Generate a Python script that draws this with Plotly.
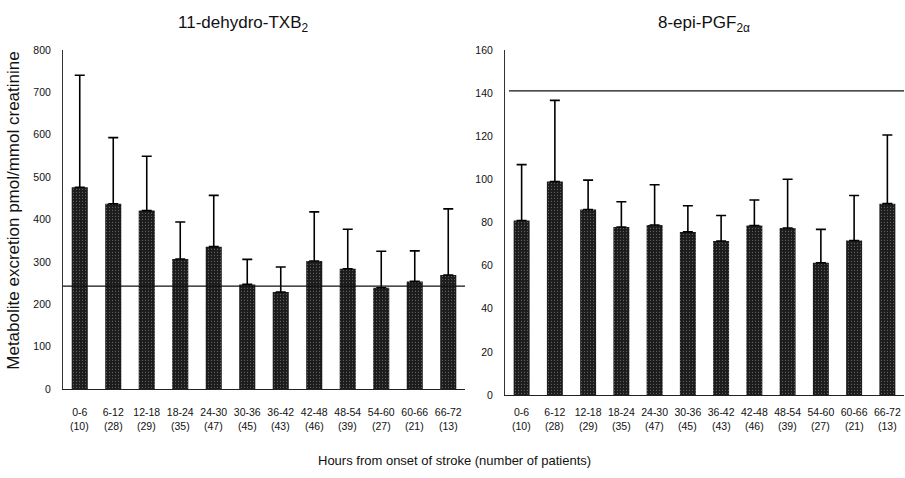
import plotly.graph_objects as go

categories = ["0-6", "6-12", "12-18", "18-24", "24-30", "30-36", "36-42", "42-48", "48-54", "54-60", "60-66", "66-72"]
n_patients = [10, 28, 29, 35, 47, 45, 43, 46, 39, 27, 21, 13]

txb2_mean = [476, 437, 421, 307, 336, 247, 229, 302, 284, 239, 254, 269]
txb2_upper = [740, 593, 549, 394, 457, 306, 288, 418, 377, 325, 326, 425]
txb2_ref = 243

pgf_mean = [80.9, 99.0, 86.0, 77.9, 78.8, 75.6, 71.4, 78.6, 77.4, 61.3, 71.6, 88.7]
pgf_upper = [106.8, 136.6, 99.6, 89.6, 97.5, 87.7, 83.2, 90.4, 100.0, 76.8, 92.5, 120.5]
pgf_ref = 141

FONT = "Arial, Liberation Sans, sans-serif"
W, H = 905, 478
xs = list(range(len(categories)))

fig = go.Figure()

def add_bars(mean, upper, xa, ya):
    fig.add_trace(go.Bar(
        x=xs, y=mean, xaxis=xa, yaxis=ya, width=0.48,
        marker=dict(color="#1c1c1c", line=dict(width=0),
                    pattern=dict(shape=".", fgcolor="#d0d0d0", bgcolor="#1c1c1c",
                                 size=3, solidity=0.12)),
        error_y=dict(type="data", symmetric=False,
                     array=[u - m for u, m in zip(upper, mean)],
                     arrayminus=[0] * len(mean),
                     color="black", thickness=1.6, width=5),
        showlegend=False, hoverinfo="skip"))

add_bars(txb2_mean, txb2_upper, "x", "y")
add_bars(pgf_mean, pgf_upper, "x2", "y2")

xcommon = dict(range=[-0.5, 11.5], tickmode="array", tickvals=xs,
               ticktext=categories, showgrid=False, zeroline=False,
               showline=True, linecolor="#222", linewidth=1, ticks="",
               tickfont=dict(family=FONT, size=10.5, color="#111"), tickangle=0)
ycommon = dict(showgrid=False, zeroline=False, showline=True, linecolor="#333",
               linewidth=1, ticks="", ticklabelstandoff=9,
               tickfont=dict(family=FONT, size=10.5, color="#111"))

annotations = [
    dict(text="11-dehydro-TXB<sub>2</sub>", x=243 / W, y=1 - 18 / H, xref="paper", yref="paper",
         xanchor="center", yanchor="middle", showarrow=False,
         font=dict(family=FONT, size=17, color="#111")),
    dict(text="8-epi-PGF<sub>2α</sub>", x=704 / W, y=1 - 18 / H, xref="paper", yref="paper",
         xanchor="center", yanchor="middle", showarrow=False,
         font=dict(family=FONT, size=17, color="#111")),
    dict(text="Metabolite excretion pmol/mmol creatinine", x=14 / W, y=1 - 210 / H,
         xref="paper", yref="paper", xanchor="center", yanchor="middle",
         showarrow=False, textangle=-90,
         font=dict(family=FONT, size=17, color="#111")),
    dict(text="Hours from onset of stroke (number of patients)", x=454 / W, y=1 - 466 / H,
         xref="paper", yref="paper", xanchor="center", yanchor="middle", showarrow=False,
         font=dict(family=FONT, size=13, color="#111")),
]
for xa in ("x", "x2"):
    for i, n in zip(xs, n_patients):
        annotations.append(dict(text=f"({n})", x=i, xref=xa, y=1 - 431 / H, yref="paper",
                                xanchor="center", yanchor="middle", showarrow=False,
                                font=dict(family=FONT, size=10.5, color="#111")))

fig.update_layout(
    width=W, height=H, margin=dict(l=0, r=0, t=0, b=0),
    paper_bgcolor="white", plot_bgcolor="white", bargap=0.5,
    xaxis=dict(domain=[63 / W, 465 / W], anchor="y", ticklabelstandoff=13, **xcommon),
    yaxis=dict(domain=[1 - 393 / H, 1 - 45 / H], anchor="x", range=[0, 800],
               tickvals=[0, 100, 200, 300, 400, 500, 600, 700, 800], **ycommon),
    xaxis2=dict(domain=[505 / W, 904 / W], anchor="y2", ticklabelstandoff=7, **xcommon),
    yaxis2=dict(domain=[1 - 399 / H, 1 - 45 / H], anchor="x2", range=[0, 160],
                tickvals=[0, 20, 40, 60, 80, 100, 120, 140, 160], **ycommon),
    shapes=[
        dict(type="line", xref="x domain", yref="y", x0=0, x1=1, y0=txb2_ref, y1=txb2_ref,
             line=dict(color="#111", width=1.3)),
        dict(type="line", xref="x2 domain", yref="y2", x0=0.01, x1=1, y0=pgf_ref, y1=pgf_ref,
             line=dict(color="#111", width=1.3)),
    ],
    annotations=annotations,
)

fig.write_html("out.html")
